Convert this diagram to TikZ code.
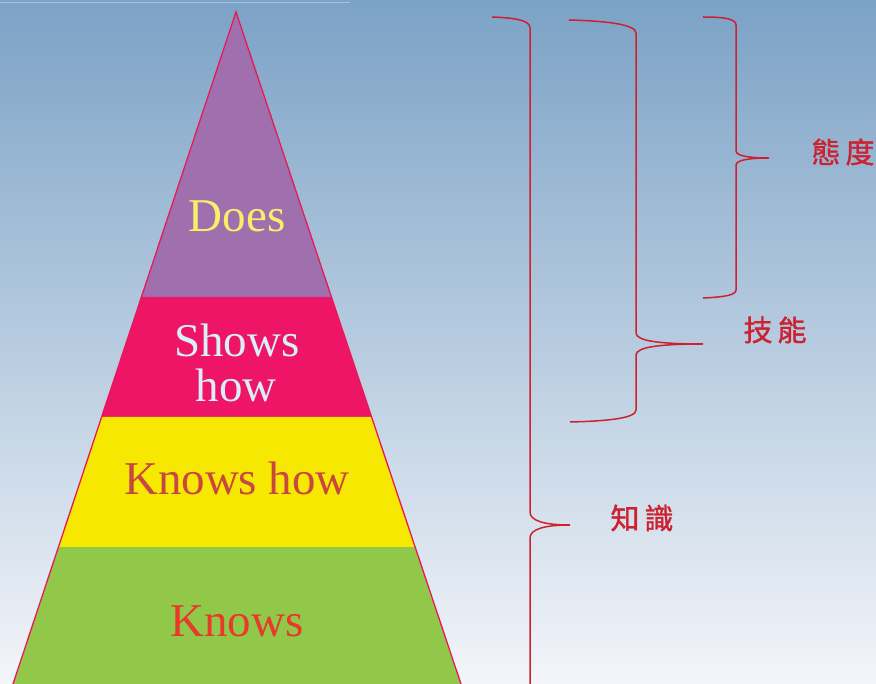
\documentclass[tikz,border=0pt]{standalone}
\usepackage{fontspec}
\setmainfont{Liberation Serif}
\newfontfamily\cjk[FakeBold=1.2]{Noto Sans CJK TC}
\definecolor{bgtop}{HTML}{7BA2C6}
\definecolor{bgbot}{HTML}{F3F5F9}
\definecolor{doesfill}{HTML}{A070AE}
\definecolor{showsfill}{HTML}{EE1466}
\definecolor{khfill}{HTML}{F6E800}
\definecolor{knowsfill}{HTML}{92C84A}
\definecolor{edge}{HTML}{E8185A}
\definecolor{doestxt}{HTML}{F8EE6A}
\definecolor{showstxt}{HTML}{D8EEF8}
\definecolor{khtxt}{HTML}{C84840}
\definecolor{knowstxt}{HTML}{E83A2A}
\definecolor{brace}{HTML}{CC2230}
\tikzset{
  lvltext/.style={font=\fontsize{47}{47}\selectfont, anchor=base, inner sep=0pt},
  cjklabel/.style={font=\cjk\fontsize{29}{29}\selectfont, text=brace, inner sep=0pt},
  bracepath/.style={draw=brace, line width=1.5pt}
}
\begin{document}
\begin{tikzpicture}[x=1pt,y=-1pt]
\useasboundingbox (0,0) rectangle (876,684);
\shade[top color=bgtop, bottom color=bgbot] (0,0) rectangle (876,684);
\draw[color=white, opacity=0.35, line width=1pt] (0,3) -- (350,3);
% layers
\fill[doesfill] (236,12) -- (331.4,297) -- (141.4,297) -- cycle;
\fill[showsfill] (141.4,297) -- (331.4,297) -- (371.6,417) -- (101.6,417) -- cycle;
\fill[khfill] (101.6,417) -- (371.6,417) -- (415.1,547) -- (58.5,547) -- cycle;
\fill[knowsfill] (58.5,547) -- (415.1,547) -- (461,684) -- (13,684) -- cycle;
\draw[edge, line width=1.3pt, line join=miter] (13,684) -- (236,12) -- (461,684);
% texts
\node[lvltext, text=doestxt] (does) at (237,232) {Does};
\node[lvltext, text=showstxt] (shows) at (237,357) {Shows};
\node[lvltext, text=showstxt] (how) at (236,402) {how};
\node[lvltext, text=khtxt] (kh) at (237,494) {Knows how};
\node[lvltext, text=knowstxt] (knows) at (237,636) {Knows};
% braces
\draw[bracepath] (492,17) .. controls (515,18) and (530,20) .. (530,28) -- (530,512)
  .. controls (530,521) and (545,525) .. (570,525)
  .. controls (545,525) and (530,529) .. (530,538) -- (530,690);
\draw[bracepath] (569,20) .. controls (610,21) and (636,25) .. (636,33) -- (636,333)
  .. controls (636,341) and (660,344) .. (703,344)
  .. controls (660,344) and (636,347) .. (636,355) -- (636,410)
  .. controls (636,418) and (610,421) .. (570,422);
\draw[bracepath] (703,17) .. controls (725,17) and (736,19) .. (736,25) -- (736,151)
  .. controls (736,156) and (750,158) .. (769,158)
  .. controls (750,158) and (736,160) .. (736,165) -- (736,290)
  .. controls (736,295) and (725,297) .. (703,298);
% labels
\node[cjklabel] (att) at (843,152) {態\hspace{5pt}度};
\node[cjklabel] (skill) at (775,330) {技\hspace{5pt}能};
\node[cjklabel] (know) at (642,518) {知\hspace{5pt}識};
\end{tikzpicture}
\end{document}
